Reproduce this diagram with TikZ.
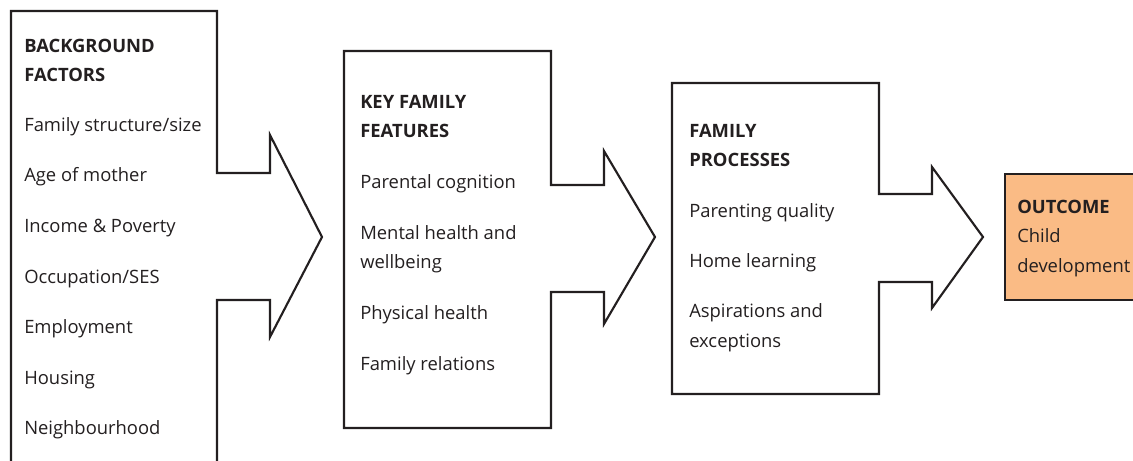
\documentclass[tikz,border=0pt]{standalone}
\usepackage{fontspec}
\setmainfont{Open Sans}
\usetikzlibrary{positioning}
\definecolor{outcomecolor}{RGB}{250, 187, 133}
\definecolor{inkcolor}{RGB}{35, 31, 32}
\tikzset{
  block/.style={draw=inkcolor, line width=1.6pt, line join=miter},
  item/.style={anchor=base west, inner sep=0pt, text=inkcolor, font=\fontsize{13.8}{16}\selectfont},
  head/.style={item, font=\fontsize{13.8}{16}\selectfont\bfseries},
}

\begin{document}
\begin{tikzpicture}[x=0.75pt, y=-0.75pt]
    \useasboundingbox (0,0) rectangle (1133,461);
    \clip (0,0) rectangle (1133,461);

    % Background factors
    \draw[block] (11,475) -- (11,11) -- (217,11) -- (217,173) -- (270,173) -- (270,135)
        -- (322,237) -- (270,337) -- (270,300) -- (217,300) -- (217,475);
    \node[head] (bgtitle) at (24,52) {BACKGROUND};
    \node[head] (bgtitleb) at (24,81) {FACTORS};
    \node[item] (bgsize) at (24,131) {Family structure/size};
    \node[item] (bgage) at (24,181) {Age of mother};
    \node[item] (bgincome) at (24,232) {Income \& Poverty};
    \node[item] (bgses) at (24,283) {Occupation/SES};
    \node[item] (bgwork) at (24,333) {Employment};
    \node[item] (bghouse) at (24,384) {Housing};
    \node[item] (bgarea) at (24,434) {Neighbourhood};

    % Key family features
    \draw[block] (344,51) -- (551,51) -- (551,185) -- (604,185) -- (604,151) -- (655,237)
        -- (604,324) -- (604,292) -- (551,292) -- (551,428) -- (344,428) -- cycle;
    \node[head] (kftitle) at (360,108) {KEY FAMILY};
    \node[head] (kftitleb) at (360,137) {FEATURES};
    \node[item] (kfcog) at (360,188) {Parental cognition};
    \node[item] (kfmental) at (360,239) {Mental health and};
    \node[item] (kfmentalb) at (360,268) {wellbeing};
    \node[item] (kfphys) at (360,319) {Physical health};
    \node[item] (kfrel) at (360,370) {Family relations};

    % Family processes
    \draw[block] (672,83) -- (879,83) -- (879,194) -- (932,194) -- (932,167) -- (983,237)
        -- (932,308) -- (932,282) -- (879,282) -- (879,394) -- (672,394) -- cycle;
    \node[head] (fptitle) at (689,137) {FAMILY};
    \node[head] (fptitleb) at (689,166) {PROCESSES};
    \node[item] (fpqual) at (689,217) {Parenting quality};
    \node[item] (fphome) at (689,267) {Home learning};
    \node[item] (fpasp) at (689,317) {Aspirations and};
    \node[item] (fpaspb) at (689,347) {exceptions};

    % Outcome
    \draw[block, fill=outcomecolor] (1005,174) rectangle (1145,300);
    \node[head] (outtitle) at (1017,213) {OUTCOME};
    \node[item] (outchild) at (1017,242) {Child};
    \node[item] (outdev) at (1017,272) {development};
\end{tikzpicture}
\end{document}
